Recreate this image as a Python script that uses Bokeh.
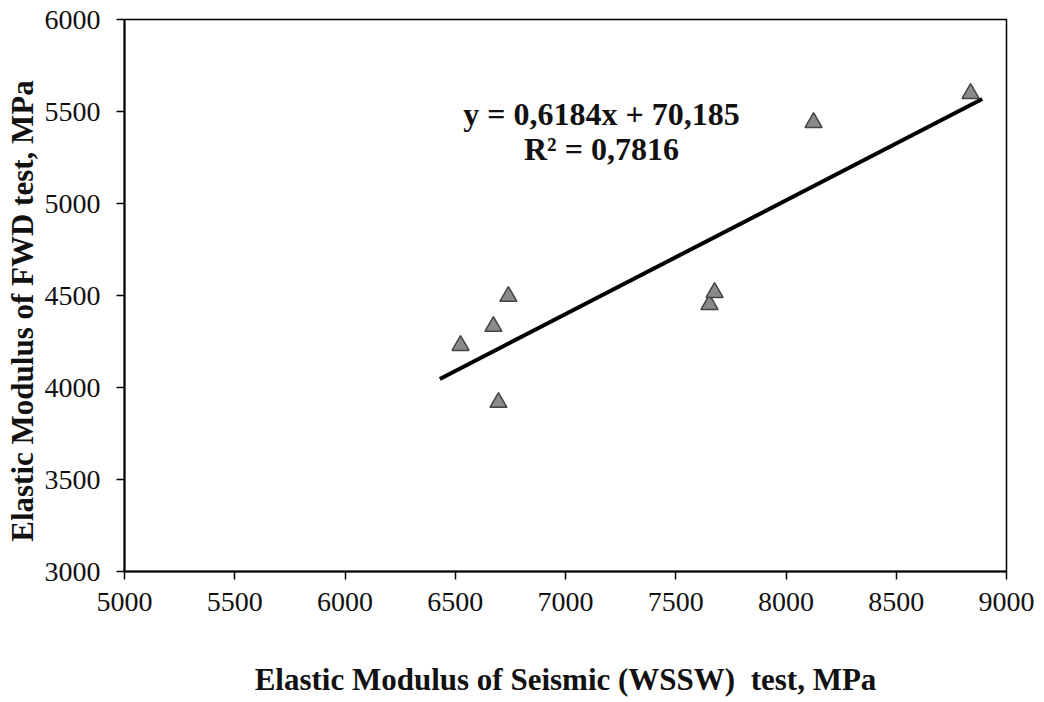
from bokeh.plotting import figure
from bokeh.models import FixedTicker, Range1d, Label
from bokeh.embed import file_html
from bokeh.resources import INLINE

# Data
wssw_modulus = [6524, 6673, 6741, 6696, 7653, 7676, 8125, 8837]
fwd_modulus = [4228, 4332, 4495, 3919, 4451, 4516, 5440, 5598]

slope = 0.6184
intercept = 70.185
trend_x = [6430, 8890]
trend_y = [slope * v + intercept for v in trend_x]

x_ticks = [5000, 5500, 6000, 6500, 7000, 7500, 8000, 8500, 9000]
y_ticks = [3000, 3500, 4000, 4500, 5000, 5500, 6000]

eq_text = "y = 0,6184x + 70,185"
r2_text = "R² = 0,7816"

FONT = "Liberation Serif"

p = figure(width=1044, height=702, output_backend="svg", toolbar_location=None,
           x_range=Range1d(5000, 9000), y_range=Range1d(3000, 6000),
           min_border_left=124, min_border_right=38, min_border_top=19, min_border_bottom=131)

p.xgrid.visible = False
p.ygrid.visible = False
p.outline_line_color = "black"
p.outline_line_width = 1.5
p.background_fill_color = "white"
p.border_fill_color = "white"

for ax in (p.xaxis[0], p.yaxis[0]):
    ax.axis_line_color = "black"
    ax.axis_line_width = 2
    ax.major_tick_line_color = "black"
    ax.major_tick_line_width = 1.5
    ax.major_tick_in = 0
    ax.major_tick_out = 8
    ax.minor_tick_line_color = None
    ax.major_label_text_font = FONT
    ax.major_label_text_font_size = "28px"
    ax.major_label_text_color = "#111111"
    ax.axis_label_text_font = FONT
    ax.axis_label_text_font_style = "bold"
    ax.axis_label_text_font_size = "31px"
    ax.axis_label_text_color = "#111111"

p.xaxis.ticker = FixedTicker(ticks=x_ticks)
p.yaxis.ticker = FixedTicker(ticks=y_ticks)
p.xaxis.axis_label = "Elastic Modulus of Seismic (WSSW)\u00a0 test, MPa"
p.yaxis.axis_label = "Elastic Modulus of FWD test, MPa\u00a0\u00a0\u00a0\u00a0"
p.xaxis.major_label_standoff = 13
p.yaxis.major_label_standoff = 16
p.xaxis.axis_label_standoff = 48
p.yaxis.axis_label_standoff = 2

p.line(trend_x, trend_y, line_color="black", line_width=4)
p.scatter(wssw_modulus, fwd_modulus, marker="triangle", size=17,
          fill_color="#8a8a8a", line_color="#444444", line_width=1.5)

p.add_layout(Label(x=7163, y=5485, text=eq_text,
                   text_font=FONT, text_font_style="bold", text_font_size="32px",
                   text_align="center", text_baseline="middle", text_color="#111111"))
p.add_layout(Label(x=7163, y=5297, text=r2_text,
                   text_font=FONT, text_font_style="bold", text_font_size="32px",
                   text_align="center", text_baseline="middle", text_color="#111111"))

open("out.html", "w").write(file_html(p, INLINE))
